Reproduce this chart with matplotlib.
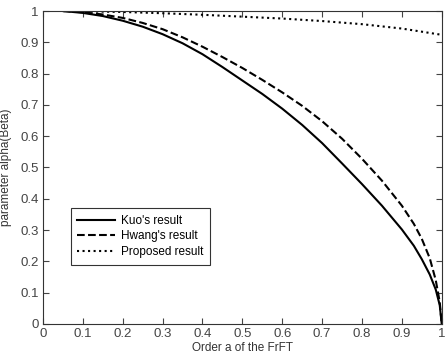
import matplotlib
matplotlib.use("Agg")
import matplotlib.pyplot as plt

plt.rcParams['font.family'] = ['Liberation Sans', 'DejaVu Sans']

# Kuo's result (solid)
kuo_x = [0.05, 0.1, 0.15, 0.2, 0.25, 0.3, 0.35, 0.4, 0.45, 0.5, 0.55, 0.6, 0.65, 0.7, 0.75, 0.8, 0.85, 0.9, 0.93, 0.95, 0.97, 0.985, 0.995, 1.0]
kuo_y = [1.0, 0.994, 0.984, 0.969, 0.95, 0.926, 0.897, 0.862, 0.821, 0.778, 0.735, 0.688, 0.636, 0.578, 0.513, 0.447, 0.378, 0.302, 0.25, 0.207, 0.158, 0.11, 0.06, 0.0]

# Hwang's result (dashed)
hwang_x = [0.05, 0.1, 0.15, 0.2, 0.25, 0.3, 0.35, 0.4, 0.45, 0.5, 0.55, 0.6, 0.65, 0.7, 0.75, 0.8, 0.85, 0.9, 0.93, 0.95, 0.97, 0.985, 0.995, 1.0]
hwang_y = [1.0, 0.996, 0.989, 0.978, 0.962, 0.942, 0.916, 0.886, 0.853, 0.818, 0.78, 0.74, 0.697, 0.648, 0.592, 0.528, 0.458, 0.378, 0.32, 0.272, 0.21, 0.14, 0.07, 0.0]

# Proposed result (dotted)
prop_x = [0.05, 0.2, 0.3, 0.4, 0.5, 0.6, 0.7, 0.8, 0.9, 1.0]
prop_y = [1.0, 0.997, 0.993, 0.988, 0.982, 0.976, 0.968, 0.958, 0.944, 0.924]

fig = plt.figure(figsize=(4.48, 3.56), dpi=100)
ax = fig.add_axes([0.096, 0.09, 0.89, 0.879])

ax.plot(kuo_x, kuo_y, 'k-', lw=1.5, label="Kuo's result")
ax.plot(hwang_x, hwang_y, 'k--', lw=1.5, label="Hwang's result")
ax.plot(prop_x, prop_y, 'k:', lw=1.5, label="Proposed result")

ax.set_xlim(0, 1)
ax.set_ylim(0, 1)
ticks = [i / 10 for i in range(11)]
tick_labels = ['0', '0.1', '0.2', '0.3', '0.4', '0.5', '0.6', '0.7', '0.8', '0.9', '1']
ax.set_xticks(ticks)
ax.set_yticks(ticks)
ax.set_xticklabels(tick_labels)
ax.set_yticklabels(tick_labels)
ax.tick_params(direction='in', top=True, right=True, labelsize=9.5, colors='#444444', length=4, pad=3)
for s in ax.spines.values():
    s.set_color('#333333')

ax.set_xlabel('Order a of the FrFT', fontsize=8.5, color='#333333', labelpad=1)
ax.set_ylabel('parameter alpha(Beta)', fontsize=8.5, color='#333333', labelpad=6)

leg = ax.legend(loc='lower left', bbox_to_anchor=(0.07, 0.19), fontsize=8.5, frameon=True,
                fancybox=False, edgecolor='black', handlelength=3.2, handletextpad=0.5,
                borderaxespad=0, borderpad=0.55, labelspacing=0.3)
leg.get_frame().set_linewidth(0.8)

fig.savefig('out.png', dpi=100)
